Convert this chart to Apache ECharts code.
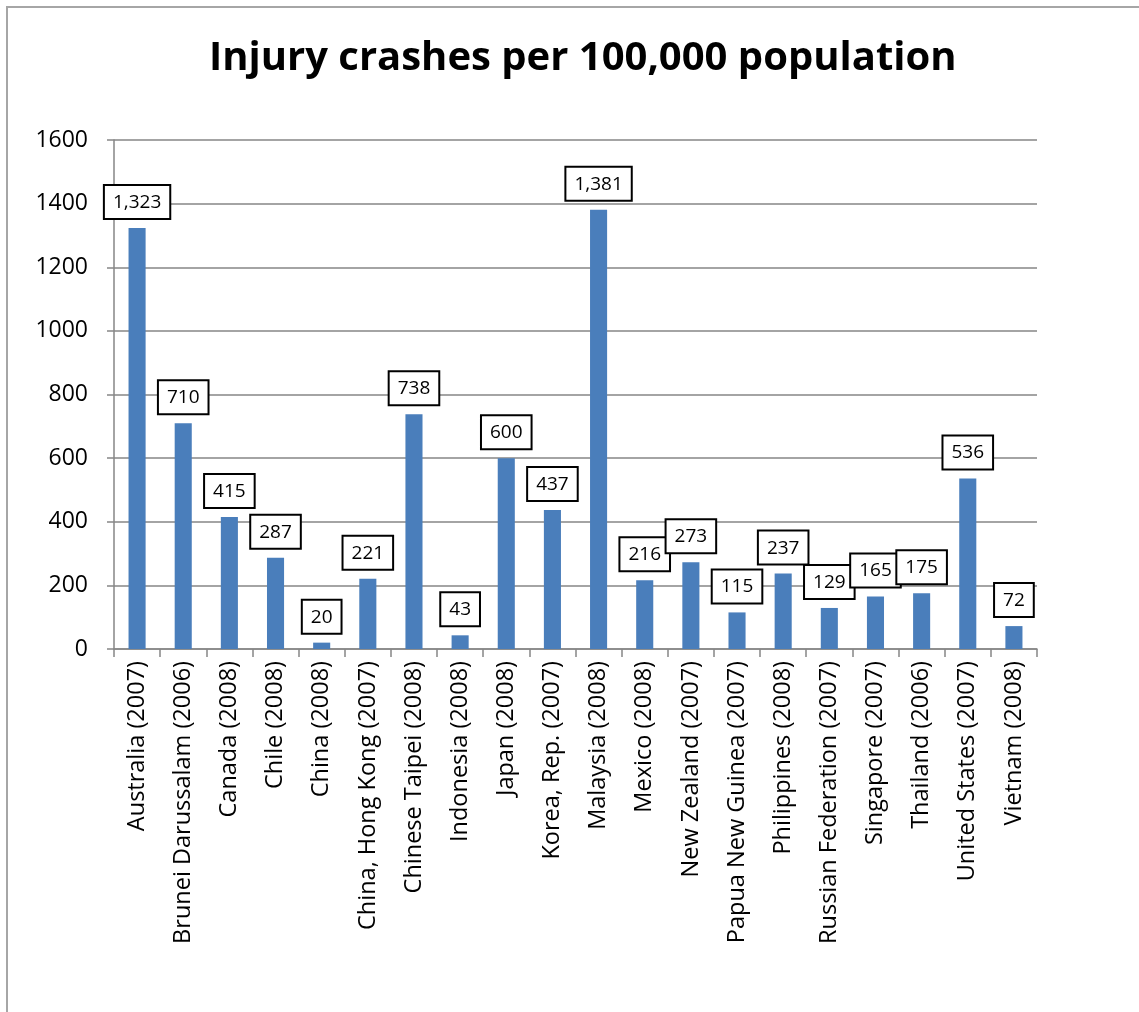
<!DOCTYPE html>
<html>
<head>
<meta charset="utf-8">
<script src="https://cdn.jsdelivr.net/npm/echarts@6/dist/echarts.min.js"></script>
<style>html,body{margin:0;padding:0;background:#fff}#c{width:1139px;height:1012px}</style>
</head>
<body>
<div id="c"></div>
<script>
const categories = ["Australia (2007)","Brunei Darussalam (2006)","Canada (2008)","Chile (2008)","China (2008)","China, Hong Kong (2007)","Chinese Taipei (2008)","Indonesia (2008)","Japan (2008)","Korea, Rep. (2007)","Malaysia (2008)","Mexico (2008)","New Zealand (2007)","Papua New Guinea (2007)","Philippines (2008)","Russian Federation (2007)","Singapore (2007)","Thailand (2006)","United States (2007)","Vietnam (2008)"];
const values = [1323,710,415,287,20,221,738,43,600,437,1381,216,273,115,237,129,165,175,536,72];
const titleText = "Injury crashes per 100,000 population";
const yTicks = {min:0, max:1600, interval:200};

const FONT = "'Open Sans', 'Noto Sans', sans-serif";
const chart = echarts.init(document.getElementById('c'), null, {renderer:'canvas'});
chart.setOption({
  animation:false,
  backgroundColor:'#fff',
  graphic:[{type:'rect', shape:{x:7,y:7,width:1300,height:1200}, style:{fill:'none', stroke:'#a6a6a6', lineWidth:2}, z:-1}],
  title:{text:titleText, left:204, top:34, textStyle:{fontFamily:FONT, fontWeight:'bold', fontSize:40, color:'#000'}},
  grid:{left:114, right:102, top:140, bottom:363, containLabel:false},
  xAxis:{type:'category', data:categories,
    axisLine:{lineStyle:{color:'#868686', width:1.5}},
    axisTick:{show:true, length:8, lineStyle:{color:'#868686', width:1.5}},
    axisLabel:{rotate:90, interval:0, margin:12, color:'#000', fontFamily:FONT, fontSize:23.5}},
  yAxis:{type:'value', min:yTicks.min, max:yTicks.max, interval:yTicks.interval,
    axisLine:{show:true, lineStyle:{color:'#868686', width:1.5}},
    axisTick:{show:true, length:7, lineStyle:{color:'#868686', width:1.5}},
    splitLine:{lineStyle:{color:'#868686', width:1.5}},
    axisLabel:{margin:26, color:'#000', fontFamily:FONT, fontSize:23, formatter:v=>String(v)}},
  series:[{type:'bar', data:values, barWidth:'37%', itemStyle:{color:'#4a7ebb'},
    label:{show:true, position:'top', distance:10, color:'#000', fontFamily:FONT, fontSize:19,
      backgroundColor:'#fff', borderColor:'#000', borderWidth:2, padding:[6,8,5,8], lineHeight:21,
      formatter:p=>p.value.toLocaleString('en-US')}}]
});
</script>
</body>
</html>
